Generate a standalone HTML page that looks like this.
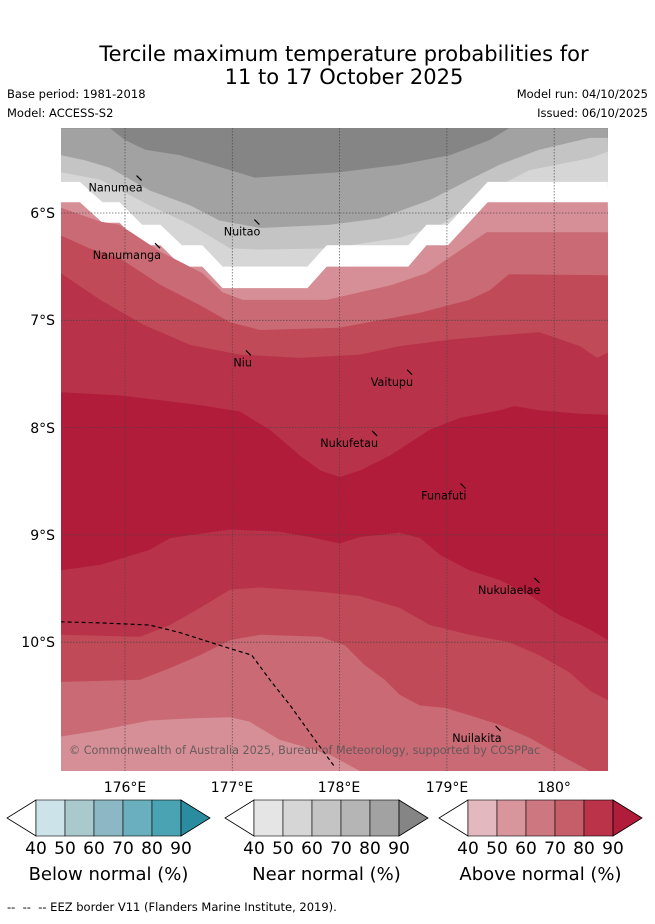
<!DOCTYPE html>
<html><head><meta charset="utf-8"><style>
body{margin:0;background:#fff;width:655px;height:919px;overflow:hidden;font-family:"Liberation Sans","DejaVu Sans",sans-serif;}
svg text{font-family:"DejaVu Sans","Liberation Sans",sans-serif;}
</style></head><body>
<svg id="chart" width="655" height="919" viewBox="0 0 655 919" xmlns="http://www.w3.org/2000/svg">
<text x="344" y="61" font-size="21" text-anchor="middle" fill="#000">Tercile maximum temperature probabilities for</text>
<text x="344" y="84" font-size="21" text-anchor="middle" fill="#000">11 to 17 October 2025</text>
<text x="7" y="98" font-size="11.5">Base period: 1981-2018</text>
<text x="7" y="117" font-size="11.5">Model: ACCESS-S2</text>
<text x="648" y="98" font-size="11.5" text-anchor="end">Model run: 04/10/2025</text>
<text x="648" y="117" font-size="11.5" text-anchor="end">Issued: 06/10/2025</text>
<defs><clipPath id="mapclip"><rect x="61" y="128" width="547" height="643"/></clipPath></defs>
<g id="map" clip-path="url(#mapclip)"></g>
<g id="labels"></g>
<text x="125" y="792" font-size="14" text-anchor="middle">176°E</text>
<text x="232" y="792" font-size="14" text-anchor="middle">177°E</text>
<text x="339" y="792" font-size="14" text-anchor="middle">178°E</text>
<text x="447" y="792" font-size="14" text-anchor="middle">179°E</text>
<text x="554" y="792" font-size="14" text-anchor="middle">180°</text>
<text x="55" y="218" font-size="14" text-anchor="end">6°S</text>
<text x="55" y="325" font-size="14" text-anchor="end">7°S</text>
<text x="55" y="433" font-size="14" text-anchor="end">8°S</text>
<text x="55" y="540" font-size="14" text-anchor="end">9°S</text>
<text x="55" y="647" font-size="14" text-anchor="end">10°S</text>
<g id="cbars"></g>
<text x="7" y="911" font-size="11.5" xml:space="preserve">--  --  -- EEZ border V11 (Flanders Marine Institute, 2019).</text>
</svg>
<script>
const NS='http://www.w3.org/2000/svg';
const bGrey1=[[175.40,5.21],[175.86,5.21],[176.00,5.32],[176.19,5.41],[176.51,5.46],[176.98,5.60],[177.21,5.67],[178.00,5.62],[178.56,5.55],[179.03,5.46],[179.40,5.32],[179.58,5.21],[180.50,5.21]];
const bGrey2=[[175.40,5.46],[175.63,5.51],[175.86,5.58],[176.23,5.79],[176.61,5.93],[176.88,6.07],[177.26,6.14],[177.91,6.11],[178.37,6.05],[178.84,5.88],[179.21,5.69],[179.49,5.55],[179.86,5.41],[180.33,5.30],[180.50,5.30]];
const bGrey3=[[175.40,5.62],[175.77,5.69],[176.23,5.93],[176.61,6.11],[176.98,6.33],[177.26,6.34],[177.91,6.33],[178.56,6.23],[178.94,6.11],[179.21,5.93],[179.40,5.79],[179.77,5.60],[180.33,5.49],[180.50,5.43]];
const bWhite=[[175.40,5.71],[175.58,5.71],[175.79,5.90],[175.95,5.90],[176.16,6.11],[176.33,6.11],[176.53,6.30],[176.72,6.30],[176.91,6.50],[177.70,6.50],[177.88,6.30],[178.64,6.30],[178.81,6.11],[179.01,6.11],[179.38,5.71],[180.50,5.71]];
const bRed50=[[175.40,5.90],[175.58,5.90],[175.79,6.09],[175.95,6.09],[176.16,6.30],[176.33,6.30],[176.53,6.50],[176.72,6.50],[176.91,6.70],[177.70,6.70],[177.88,6.50],[178.64,6.50],[178.81,6.30],[179.01,6.30],[179.38,5.90],[180.50,5.90]];
const bRed60=[[175.40,5.95],[175.77,6.08],[175.95,6.11],[176.33,6.36],[176.72,6.56],[176.91,6.74],[177.10,6.81],[177.88,6.81],[178.49,6.67],[178.81,6.56],[179.37,6.18],[180.50,6.18]];
const bRed70=[[175.40,6.21],[175.67,6.33],[175.95,6.42],[176.33,6.67],[176.70,6.86],[176.98,7.02],[177.26,7.09],[178.00,7.07],[178.37,7.00],[178.75,6.93],[179.21,6.81],[179.40,6.72],[179.58,6.57],[180.50,6.58]];
const bRed80=[[175.40,6.56],[175.77,6.81],[176.17,7.04],[176.61,7.23],[177.07,7.32],[177.63,7.35],[178.19,7.32],[178.56,7.24],[179.03,7.18],[179.49,7.14],[179.86,7.11],[180.24,7.24],[180.40,7.35],[180.50,7.30]];
const bRed90=[[175.40,7.67],[175.95,7.70],[176.70,7.79],[177.07,7.85],[177.35,8.02],[177.63,8.26],[177.82,8.40],[178.00,8.46],[178.19,8.40],[178.47,8.26],[178.84,8.02],[179.12,7.91],[179.49,7.84],[179.63,7.80],[179.86,7.84],[180.24,7.87],[180.50,7.88]];
const bRed80b=[[175.40,9.33],[175.77,9.28],[176.23,9.14],[176.42,9.03],[176.98,8.95],[177.44,8.97],[177.72,9.02],[178.00,9.08],[178.19,9.02],[178.56,8.98],[178.75,9.03],[178.94,9.19],[179.21,9.33],[179.49,9.42],[179.77,9.56],[180.05,9.75],[180.33,9.88],[180.50,9.98]];
const bRed70b=[[175.40,9.93],[176.14,9.95],[176.42,9.84],[176.70,9.68],[176.98,9.51],[177.26,9.49],[177.82,9.53],[178.19,9.57],[178.56,9.68],[178.84,9.84],[179.21,9.93],[179.58,10.00],[179.86,10.12],[180.14,10.28],[180.33,10.45],[180.50,10.54]];
const bRed60b=[[175.40,10.37],[176.14,10.35],[176.42,10.24],[176.70,10.12],[176.98,9.98],[177.26,9.93],[177.82,9.95],[178.05,10.03],[178.23,10.21],[178.42,10.35],[178.56,10.49],[178.75,10.59],[178.98,10.61],[179.21,10.68],[179.49,10.77],[179.77,10.89],[180.05,11.05],[180.33,11.20],[180.50,11.20]];
const bRed50b=[[175.40,10.88],[175.77,10.82],[176.23,10.73],[176.61,10.71],[176.98,10.70],[177.16,10.74],[177.44,10.91],[177.72,10.99],[177.91,11.05],[178.19,11.20],[180.50,11.29]];
const bandColors=['#a2a2a2','#c4c4c4','#d6d6d6','#ffffff','#d68f96','#c96a74','#c04a57','#b83349','#b11c3a','#b83349','#c04a57','#c96a74','#d68f96'];
const bandNames=['grey-80','grey-70','grey-60','white-gap','red-50','red-60','red-70','red-80','red-90','red-80-south','red-70-south','red-60-south','red-50-south'];
const boundaries=[bGrey1,bGrey2,bGrey3,bWhite,bRed50,bRed60,bRed70,bRed80,bRed90,bRed80b,bRed70b,bRed60b,bRed50b];
const eez=[[175.40,9.81],[175.77,9.82],[176.23,9.84],[176.51,9.91],[176.98,10.06],[177.18,10.12],[177.35,10.35],[177.54,10.59],[177.77,10.91],[177.96,11.17]];
const latTicks=[6,7,8,9,10], lonTicks=[176,177,178,179,180];
const islands=['Nanumea','Nuitao','Nanumanga','Niu','Vaitupu','Nukufetau','Funafuti','Nukulaelae','Nuilakita'];
const islandLon=[175.66,176.92,175.70,177.01,178.29,177.82,178.76,179.29,179.05];
const islandLat=[5.80,6.21,6.43,7.43,7.61,8.18,8.67,9.55,10.93];
const lbl=['nanumea','nuitao','nanumanga','niu','vaitupu','nukufetau','funafuti','nukulaelae','nuilakita'];

const X=lon=>125+(lon-176)*107.3;
const Y=lat=>213+(lat-6)*107.3;
const map=document.getElementById('map');
function mk(tag,attrs,parent){const e=document.createElementNS(NS,tag);for(const k in attrs)e.setAttribute(k,attrs[k]);parent.appendChild(e);return e;}
const bg=mk('rect',{x:61,y:128,width:547,height:643,fill:'#858585'},map);


boundaries.forEach((b,i)=>{
  let d='M'+b.map(p=>X(p[0]).toFixed(1)+','+Y(p[1]).toFixed(1)).join(' L')+' L620,800 L50,800 Z';
  const p=mk('path',{d:d,fill:bandColors[i]},map);
  
  
});
lonTicks.forEach(l=>{const g=mk('line',{x1:X(l),x2:X(l),y1:128,y2:771,stroke:'#444','stroke-width':0.8,'stroke-dasharray':'1.5,1.5',opacity:0.8},map);

});
latTicks.forEach(l=>{const g=mk('line',{x1:61,x2:608,y1:Y(l),y2:Y(l),stroke:'#444','stroke-width':0.8,'stroke-dasharray':'1.5,1.5',opacity:0.8},map);

});
const ez=mk('polyline',{points:eez.map(p=>X(p[0])+','+Y(p[1])).join(' '),fill:'none',stroke:'#000','stroke-width':1.2,'stroke-dasharray':'4,3'},map);


const cp=mk('text',{x:69,y:754,'font-size':11.2,fill:'#555','fill-opacity':0.85},map);
cp.textContent='© Commonwealth of Australia 2025, Bureau of Meteorology, supported by COSPPac';


const lab=document.getElementById('labels');
islands.forEach((n,i)=>{
  const x=X(islandLon[i]),y=Y(islandLat[i]);
  const t=mk('text',{x:x,y:y,'font-size':11.2,fill:'#000'},lab);
  t.textContent=n;
  
  
  let len=n.length*6.9;
  try{len=t.getComputedTextLength();}catch(e){}
  const m=mk('line',{x1:x+len-6,y1:y-16,x2:x+len-1,y2:y-11,stroke:'#000','stroke-width':1.2},lab);
  
  
});
const cbTicks=['40','50','60','70','80','90'];
const cbBlue=['#cce3e9','#a9c9cd','#8bb8c4','#6aafbd','#4aa3b3','#2b8ca0'];
const cbGrey=['#e5e5e5','#d6d6d6','#c4c4c4','#b5b5b5','#a2a2a2','#858585'];
const cbRed=['#e3b8bf','#d8959c','#cd7880','#c55e69','#ba3349','#b11c3a'];
const cbTitles=['Below normal (%)','Near normal (%)','Above normal (%)'];
const cbNames=['below-normal','near-normal','above-normal'];
const cg=document.getElementById('cbars');
[cbBlue,cbGrey,cbRed].forEach((cols,k)=>{
  const x0=[36,254,468][k],w=29,y0=800,h=36;
  const g=mk('g',{},cg);
  
  
  mk('polygon',{points:`${x0},${y0} ${x0-29},${y0+h/2} ${x0},${y0+h}`,fill:'#fff',stroke:'#000','stroke-width':0.8},g);
  for(let i=0;i<5;i++){mk('rect',{x:x0+i*w,y:y0,width:w,height:h,fill:cols[i],stroke:'#000','stroke-width':0.6},g);}
  const xe=x0+5*w;
  mk('polygon',{points:`${xe},${y0} ${xe+29},${y0+h/2} ${xe},${y0+h}`,fill:cols[5],stroke:'#000','stroke-width':0.8},g);
  cbTicks.forEach((t,i)=>{const tt=mk('text',{x:x0+i*w,y:854,'font-size':17,'text-anchor':'middle'},g);tt.textContent=t;});
  const ti=mk('text',{x:x0+2.5*w,y:880,'font-size':18,'text-anchor':'middle'},g);
  ti.textContent=cbTitles[k];
  
  
});
</script>
</body></html>
